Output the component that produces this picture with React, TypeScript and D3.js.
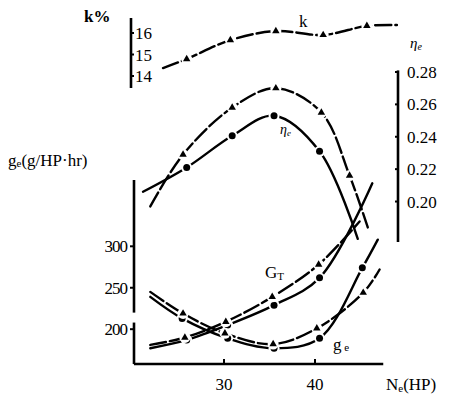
import React from 'react';
import * as d3 from 'd3';

// axis ticks
const nTicks = [30, 40];
const gTicks = [200, 250, 300];
const kTicks = [14, 15, 16];
const etaTicks = [0.2, 0.22, 0.24, 0.26, 0.28];

// [N_e, value]; first and last points are the curve ends (no marker drawn)
const kCurve = [[23.3, 14.37], [25.9, 14.79], [30.7, 15.67], [35.7, 16.09], [40.9, 15.91], [45.7, 16.33], [49.0, 16.37]];
const etaSolid = [[21.1, 0.206], [25.9, 0.221], [30.9, 0.2406], [35.5, 0.253], [40.5, 0.231], [44.7, 0.177]];
const etaDashed = [[21.9, 0.197], [25.5, 0.229], [30.9, 0.258], [35.7, 0.27], [40.7, 0.255], [43.8, 0.216], [45.8, 0.184]];
const gtSolid = [[21.9, 177], [25.9, 187], [30.4, 205], [35.5, 229], [40.5, 262], [46.3, 376]];
const gtDashed = [[21.9, 181], [25.7, 190], [30.2, 209], [35.3, 239], [40.4, 278], [44.9, 330]];
const geSolid = [[21.9, 239], [25.4, 213], [30.4, 189], [35.5, 177], [40.5, 189], [45.2, 274], [46.9, 308]];
const geDashed = [[21.9, 245], [25.5, 219], [30.1, 195], [35.4, 182], [40.2, 201], [45.3, 244], [47.1, 272]];

const W = 468, H = 400;
const font = "'Liberation Serif', 'DejaVu Serif', serif";

export default function App() {
  const x = d3.scaleLinear().domain([20, 47.5]).range([133, 383.25]);
  const yG = d3.scaleLinear().domain([158, 380]).range([364, 180]);
  const yK = d3.scaleLinear().domain([14, 16]).range([76, 33]);
  const yE = d3.scaleLinear().domain([0.175, 0.28]).range([242, 72]);

  const mkLine = (y) => d3.line().x(d => x(d[0])).y(d => y(d[1])).curve(d3.curveCatmullRom.alpha(0.5));
  const tri = d3.symbol().type(d3.symbolTriangle).size(24)();

  const series = [
    { data: kCurve, y: yK, dash: '16,4', mark: 'tri' },
    { data: etaSolid, y: yE, dash: null, mark: 'dot' },
    { data: etaDashed, y: yE, dash: '16,4', mark: 'tri' },
    { data: gtSolid, y: yG, dash: null, mark: 'dot' },
    { data: gtDashed, y: yG, dash: '16,4', mark: 'tri' },
    { data: geSolid, y: yG, dash: null, mark: 'dot' },
    { data: geDashed, y: yG, dash: '16,4', mark: 'tri' },
  ];

  return (
    <svg width={W} height={H} style={{ position: 'absolute', left: 0, top: 0, background: '#fff', fontFamily: font }}
      fill="#000">
      {/* curves */}
      {series.map((s, i) => (
        <path key={'l' + i} d={mkLine(s.y)(s.data)} fill="none" stroke="#000" strokeWidth={2.4}
          strokeDasharray={s.dash || undefined} strokeLinecap="round" />
      ))}
      {/* markers */}
      {series.map((s, i) => s.data.slice(1, -1).map((d, j) => (
        <g key={'m' + i + '-' + j} transform={`translate(${x(d[0])},${s.y(d[1])})`}>
          <circle r={5.5} fill="#fff" />
          {s.mark === 'dot'
            ? <circle r={3.5} fill="#000" />
            : <path d={tri} fill="#000" />}
        </g>
      )))}

      {/* x axis */}
      <line x1={x(20.1)} x2={x(47.5)} y1={364} y2={364} stroke="#000" strokeWidth={2.6} />
      {nTicks.map(t => (
        <g key={'x' + t}>
          <line x1={x(t)} x2={x(t)} y1={364} y2={359} stroke="#000" strokeWidth={2} />
          <text x={x(t)} y={390} fontSize={17} textAnchor="middle">{t}</text>
        </g>
      ))}
      <text x={386} y={390} fontSize={17}>N<tspan fontSize={11} dy={2}>e</tspan><tspan dy={-2}>(HP)</tspan></text>

      {/* g axis (broken) */}
      <line x1={134} x2={134} y1={yG(158)} y2={yG(208)} stroke="#000" strokeWidth={2.6} />
      <line x1={134} x2={134} y1={yG(220)} y2={yG(380)} stroke="#000" strokeWidth={2.6} />
      {gTicks.map(t => (
        <g key={'g' + t}>
          <line x1={130} x2={134} y1={yG(t)} y2={yG(t)} stroke="#000" strokeWidth={2} />
          <text x={127} y={yG(t) + 6} fontSize={17} textAnchor="end" letterSpacing={-1}>{t}</text>
        </g>
      ))}
      <text x={8} y={166} fontSize={17}>g<tspan fontSize={11} dy={1}>e</tspan><tspan dy={-1}>(g/HP·hr)</tspan></text>

      {/* k axis */}
      <line x1={131} x2={131} y1={18} y2={88} stroke="#000" strokeWidth={2.6} />
      {kTicks.map(t => (
        <g key={'k' + t}>
          <line x1={131} x2={134} y1={yK(t)} y2={yK(t)} stroke="#000" strokeWidth={2} />
          <text x={135} y={yK(t) + 6} fontSize={17}>{t}</text>
        </g>
      ))}
      <text x={84} y={22} fontSize={17} fontWeight="bold">k%</text>

      {/* eta axis */}
      <line x1={398} x2={398} y1={yE(0.281)} y2={yE(0.175)} stroke="#000" strokeWidth={2.6} />
      {etaTicks.map(t => (
        <g key={'e' + t}>
          <line x1={395} x2={398} y1={yE(t)} y2={yE(t)} stroke="#000" strokeWidth={2} />
          <text x={407} y={yE(t) + 6} fontSize={17}>{t.toFixed(2)}</text>
        </g>
      ))}
      <text x={410} y={48} fontSize={15} fontStyle="italic">η<tspan fontSize={10} dy={2}>e</tspan></text>

      {/* curve labels */}
      <text x={299} y={27} fontSize={17}>k</text>
      <text x={280} y={134} fontSize={14} fontStyle="italic">η<tspan fontSize={9} dy={2}>e</tspan></text>
      <text x={265} y={278} fontSize={17}>G<tspan fontSize={11} dy={2}>T</tspan></text>
      <text x={333} y={350} fontSize={17}>g<tspan fontSize={11} dy={1}> e</tspan></text>
    </svg>
  );
}
